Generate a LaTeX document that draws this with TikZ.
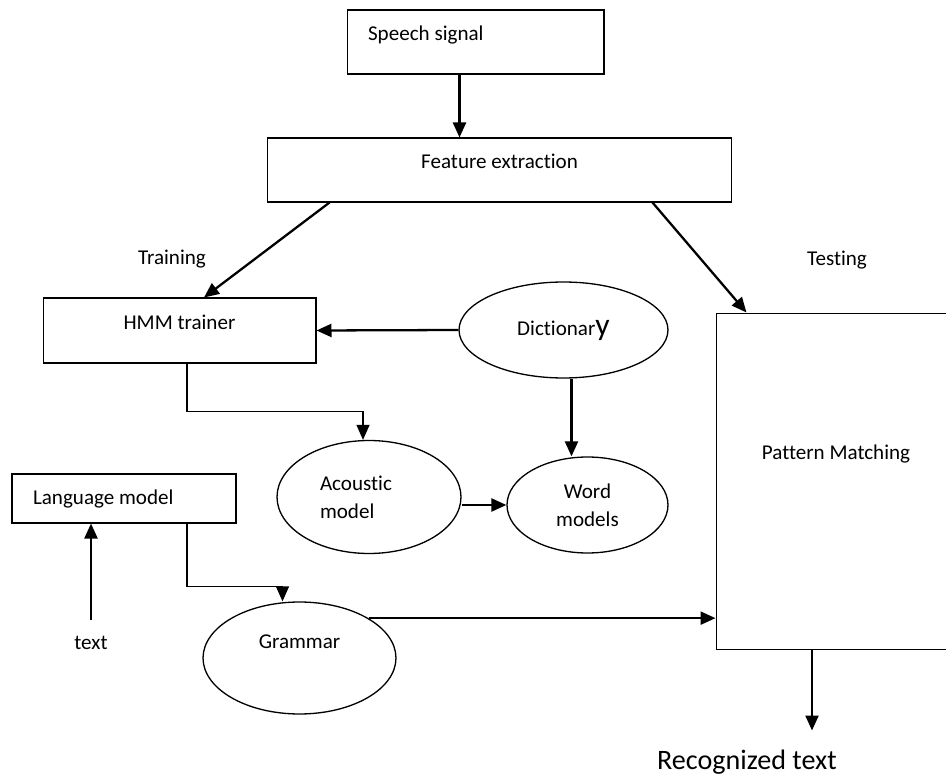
\documentclass[tikz,border=0pt]{standalone}
\usepackage{fontspec}
\setmainfont{Carlito}[Ligatures = NoCommon]
\usetikzlibrary{shapes,arrows.meta}
\tikzset{block/.style = {draw, rectangle, line width = 0.6pt, font = \fontsize{12}{16}\selectfont},
         model/.style = {draw, ellipse, line width = 0.75pt, font = \fontsize{12}{16}\selectfont},
         lbl/.style = {font = \fontsize{12}{16}\selectfont},
         lift/.style = {text height = 3mm, text depth = #1},
         conn/.style = {-{Triangle[length = 3mm, width = 2.6mm]}, line width = 1.3pt},
         elbow/.style = {conn, line width = 0.75pt},
}

\begin{document}
\begin{tikzpicture}[x = 0.02cm, y = -0.02cm]
  \useasboundingbox (0,0) rectangle (946,776);

  \node[block, text width = 4.3cm, inner xsep = .42cm, align = flush left, minimum height = 1.28cm, lift = .34cm] (sig) at (475.5,42) {Speech signal};
  \node[block, minimum width = 9.3cm, minimum height = 1.28cm, lift = .34cm] (fe) at (499.5,170) {Feature extraction};
  \node[block, minimum width = 5.46cm, minimum height = 1.3cm, lift = .32cm] (hmm) at (179.5,330.5) {HMM trainer};
  \node[block, text width = 3.64cm, inner xsep = .42cm, align = flush left, minimum height = .98cm] (lm) at (124,498.5) {Language model};
  \node[block, minimum width = 4.8cm, minimum height = 6.74cm, lift = 1.2cm] (pat) at (836,481.5) {Pattern Matching};

  \node[model, minimum width = 4.18cm, minimum height = 1.92cm] (dict) at (563.5,330) {Dictionar{\fontsize{18}{18}\selectfont y}};
  \node[model, minimum width = 3.68cm, minimum height = 2.26cm, text width = 1.96cm, align = flush left] (ac) at (369,497) {Acoustic\\model};
  \node[model, minimum width = 3.22cm, minimum height = 1.92cm, align = center] (word) at (587.5,505) {Word\\models};
  \node[model, minimum width = 3.86cm, minimum height = 2.24cm, lift = .7cm] (gram) at (299.5,658) {Grammar};

  \node[lbl] (train) at (172,259) {Training};
  \node[lbl] (test) at (837,260) {Testing};
  \node[lbl] (txt) at (91,643) {text};
  \node[font = \fontsize{16}{18}\selectfont] (rec) at (747,762) {Recognized text};

  \draw[conn] ([xshift = -.32cm]sig.south) -- ([xshift = -.32cm]sig.south |- fe.north);
  \draw[conn] ([xshift = 1.26cm]fe.south west) -- ([xshift = .49cm]hmm.north);
  \draw[conn] ([xshift = -1.6cm]fe.south east) -- ([xshift = .62cm]pat.north west);
  \draw[conn] (dict.west) -- (hmm.east);
  \draw[elbow] ([xshift = .15cm]hmm.south) -- ++(0,48) -| ([xshift = -.12cm]ac.north);
  \draw[conn] ([xshift = .16cm]dict.south) -- ([xshift = .16cm]dict.south |- word.north);
  \draw[conn] (word.west -| ac.east) -- (word.west);
  \draw[conn] ([yshift = .2cm]txt.north) -- (txt.north |- lm.south);
  \draw[elbow] ([xshift = 1.26cm]lm.south) -- ++(0,63) -| ([xshift = -.34cm]gram.north);
  \draw[conn] (gram.30) -- (gram.30 -| pat.west);
  \draw[conn] ([xshift = -.48cm]pat.south) -- ++(0,80);

\end{tikzpicture}
\end{document}
